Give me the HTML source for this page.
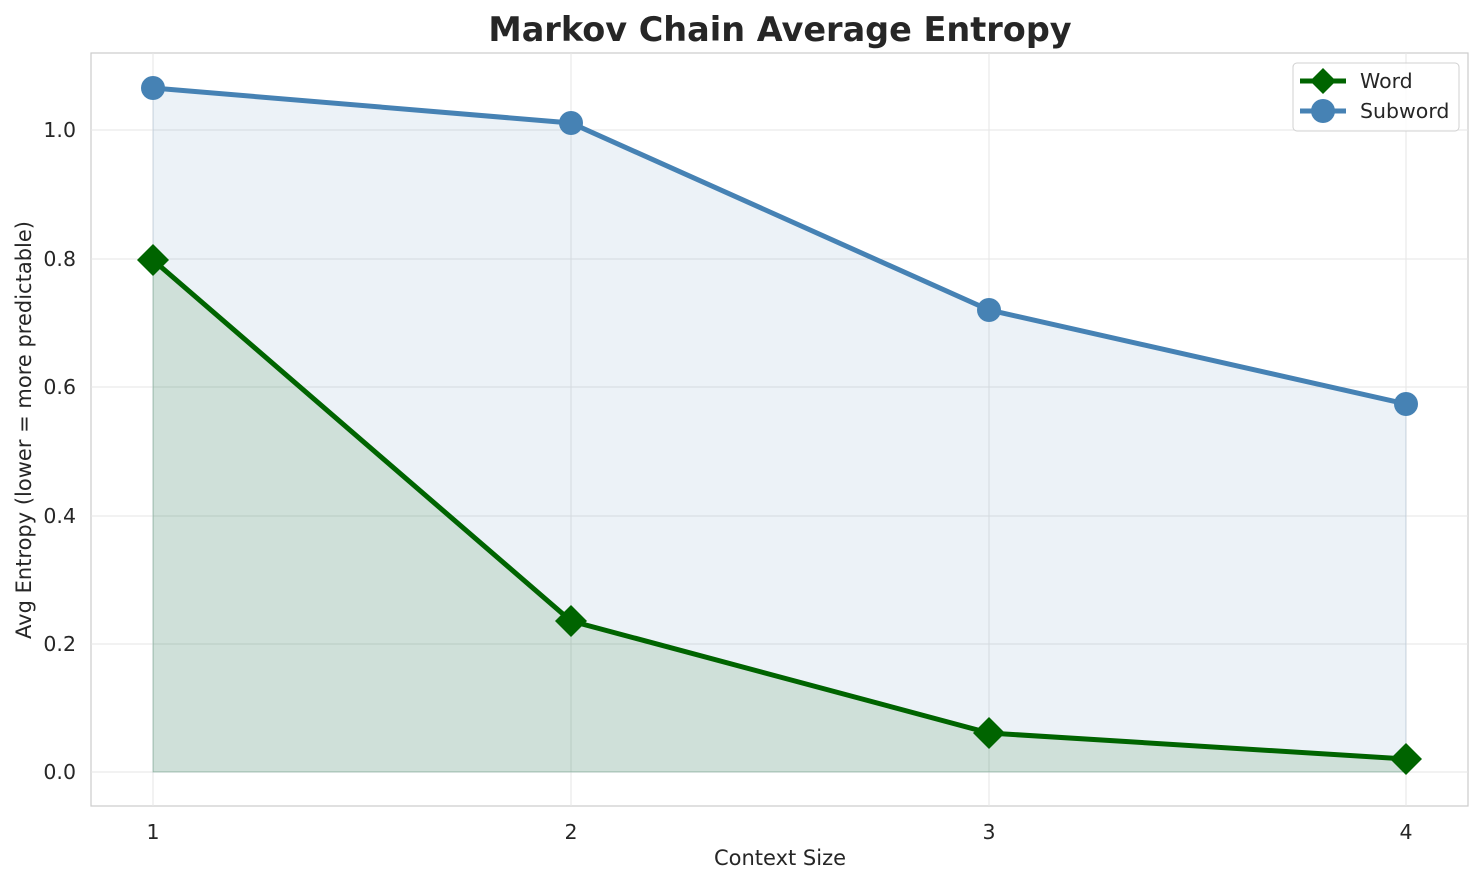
<!DOCTYPE html>
<html><head><meta charset="utf-8"><style>
html,body{margin:0;padding:0;background:#fff;}
svg{display:block;font-family:"DejaVu Sans","Liberation Sans",sans-serif;}
</style></head><body>
<svg width="1484" height="885" viewBox="0 0 1484 885">
<rect x="91" y="53" width="1377" height="753" fill="#fff" stroke="#cccccc" stroke-width="1.2"/>
<g stroke="#e5e5e5" stroke-width="1">
<line x1="91" x2="1468" y1="772" y2="772"/><line x1="91" x2="1468" y1="644" y2="644"/>
<line x1="91" x2="1468" y1="516" y2="516"/><line x1="91" x2="1468" y1="387" y2="387"/>
<line x1="91" x2="1468" y1="259" y2="259"/><line x1="91" x2="1468" y1="130" y2="130"/>
<line x1="153" x2="153" y1="53" y2="806"/><line x1="571" x2="571" y1="53" y2="806"/>
<line x1="989" x2="989" y1="53" y2="806"/><line x1="1406" x2="1406" y1="53" y2="806"/>
</g>
<polygon points="153,88 571,123 989,310 1406,404 1406,772 153,772" fill="#4682b4" fill-opacity="0.1" stroke="#4682b4" stroke-opacity="0.15"/>
<polygon points="153,260 571,621 989,733 1406,759 1406,772 153,772" fill="#006400" fill-opacity="0.12" stroke="#006400" stroke-opacity="0.15"/>
<polyline points="153,88 571,123 989,310 1406,404" fill="none" stroke="#4682b4" stroke-width="5"/>
<g fill="#4682b4"><circle cx="153" cy="88" r="12"/><circle cx="571" cy="123" r="12"/><circle cx="989" cy="310" r="12"/><circle cx="1406" cy="404" r="12"/></g>
<polyline points="153,260 571,621 989,733 1406,759" fill="none" stroke="#006400" stroke-width="5"/>
<g fill="#006400">
<polygon points="153,244 169,260 153,276 137,260"/><polygon points="571,605 587,621 571,637 555,621"/>
<polygon points="989,717 1005,733 989,749 973,733"/><polygon points="1406,743 1422,759 1406,775 1390,759"/>
</g>
<g font-size="20.5" fill="#262626" text-anchor="end">
<text x="76" y="779">0.0</text><text x="76" y="651">0.2</text><text x="76" y="523">0.4</text>
<text x="76" y="394">0.6</text><text x="76" y="266">0.8</text><text x="76" y="137">1.0</text>
</g>
<g font-size="20.5" fill="#262626" text-anchor="middle">
<text x="153" y="839">1</text><text x="571" y="839">2</text><text x="989" y="839">3</text><text x="1406" y="839">4</text>
<text x="780" y="865" font-size="21">Context Size</text>
</g>
<text transform="translate(31,430) rotate(-90)" font-size="21" fill="#262626" text-anchor="middle">Avg Entropy (lower = more predictable)</text>
<text x="780" y="41" font-size="33.5" font-weight="bold" fill="#262626" text-anchor="middle">Markov Chain Average Entropy</text>
<rect x="1293" y="63" width="166" height="68" rx="4" fill="#fff" fill-opacity="0.85" stroke="#d0d0d0"/>
<line x1="1300" x2="1346" y1="81" y2="81" stroke="#006400" stroke-width="5"/>
<polygon points="1323,68 1336,81 1323,94 1310,81" fill="#006400"/>
<line x1="1300" x2="1346" y1="111" y2="111" stroke="#4682b4" stroke-width="5"/>
<circle cx="1323" cy="111" r="12" fill="#4682b4"/>
<text x="1360" y="88" font-size="20.5" fill="#262626">Word</text>
<text x="1360" y="118" font-size="20.5" fill="#262626">Subword</text>
</svg>
</body></html>
